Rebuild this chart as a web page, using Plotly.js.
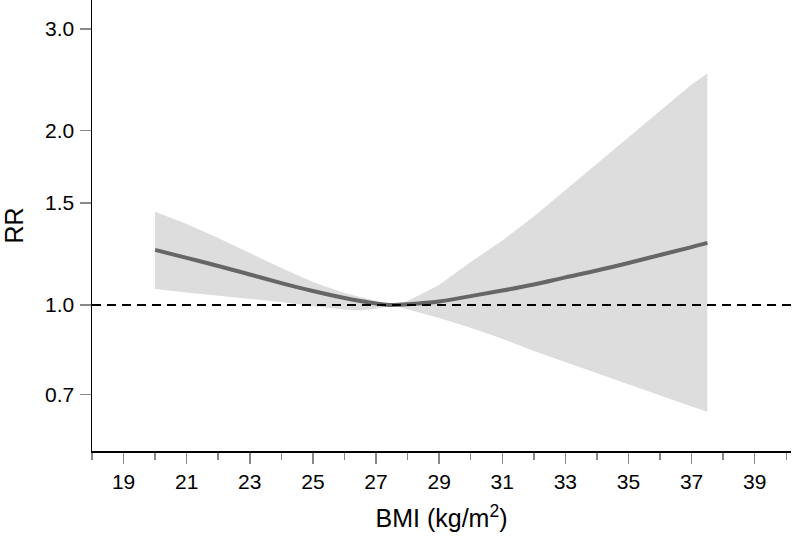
<!DOCTYPE html>
<html>
<head>
<meta charset="utf-8">
<script src="https://cdn.plot.ly/plotly-3.0.1.min.js"></script>
<style>html,body{margin:0;padding:0;background:#fff;}#chart{width:794px;height:538px;}</style>
</head>
<body>
<div id="chart"></div>
<script>
// BMI grid (kg/m2)
const bmi   = [20, 21, 22, 23, 24, 25, 26, 26.5, 27, 27.5, 28, 29, 30, 31, 32, 33, 34, 35, 36, 37, 37.5];
// Relative risk estimate
const rr    = [1.245, 1.206, 1.168, 1.129, 1.091, 1.057, 1.028, 1.016, 1.006, 1.0, 1.003, 1.014, 1.036, 1.059, 1.085, 1.116, 1.147, 1.182, 1.220, 1.259, 1.280];
// 95% CI bounds
const upper = [1.449, 1.380, 1.305, 1.230, 1.158, 1.096, 1.049, 1.032, 1.016, 1.0, 1.016, 1.083, 1.186, 1.292, 1.422, 1.580, 1.754, 1.948, 2.165, 2.403, 2.512];
const lower = [1.066, 1.051, 1.036, 1.024, 1.012, 0.995, 0.982, 0.978, 0.985, 1.0, 0.984, 0.950, 0.913, 0.874, 0.833, 0.797, 0.763, 0.729, 0.698, 0.668, 0.654];
// Reference line
const refX = [18, 40.15];
const refY = [1, 1];
// Tick labels
const yTickVals = [0.7, 1.0, 1.5, 2.0, 3.0];
const yTickText = ['0.7', '1.0', '1.5', '2.0', '3.0'];
const xTickVals = [19, 21, 23, 25, 27, 29, 31, 33, 35, 37, 39];
const xMinorVals = [18, 20, 22, 24, 26, 28, 30, 32, 34, 36, 38, 40];

const bandX = bmi.concat(bmi.slice().reverse());
const bandY = upper.concat(lower.slice().reverse());

const traces = [
  {x: bandX, y: bandY, type: 'scatter', mode: 'lines', fill: 'toself',
   fillcolor: 'rgb(221,221,221)', line: {width: 0, color: 'rgba(0,0,0,0)'}, hoverinfo: 'skip', showlegend: false},
  {x: bmi, y: rr, type: 'scatter', mode: 'lines', line: {color: '#666666', width: 4, shape: 'spline', smoothing: 1}, showlegend: false},
  {x: refX, y: refY, type: 'scatter', mode: 'lines', line: {color: '#000000', width: 2, dash: '9px,6px'}, showlegend: false}
];

const font = 'Liberation Sans, Arial, Helvetica, sans-serif';
const layout = {
  width: 794, height: 538,
  margin: {l: 92, r: 3, t: 0, b: 87},
  paper_bgcolor: '#ffffff', plot_bgcolor: '#ffffff',
  font: {family: font, color: '#000000', size: 21},
  showlegend: false,
  xaxis: {
    range: [18, 40.15], showgrid: false, zeroline: false,
    showline: true, linecolor: '#000000', linewidth: 1.5,
    tickmode: 'array', tickvals: xTickVals, ticktext: xTickVals.map(String),
    ticks: 'outside', ticklen: 11, tickwidth: 1.5, tickcolor: '#888888',
    tickfont: {family: font, size: 21, color: '#000000'},
    minor: {tickmode: 'array', tickvals: xMinorVals, ticks: 'outside', ticklen: 7, tickwidth: 1.5, tickcolor: '#888888', showgrid: false},
    title: {text: 'BMI (kg/m<sup>2</sup>)', font: {family: font, size: 25, color: '#000000'}, standoff: 18},
    automargin: false
  },
  yaxis: {
    type: 'log', range: [-0.2522, 0.5268], showgrid: false, zeroline: false,
    showline: true, linecolor: '#000000', linewidth: 1.5,
    tickmode: 'array', tickvals: yTickVals, ticktext: yTickText,
    ticks: 'outside', ticklen: 11, tickwidth: 1.5, tickcolor: '#888888',
    tickfont: {family: font, size: 21, color: '#000000'},
    ticklabelstandoff: 1,
    title: {text: 'RR', font: {family: font, size: 25, color: '#000000'}, standoff: 14},
    automargin: false
  }
};

Plotly.newPlot('chart', traces, layout, {displayModeBar: false, staticPlot: true});
</script>
</body>
</html>
